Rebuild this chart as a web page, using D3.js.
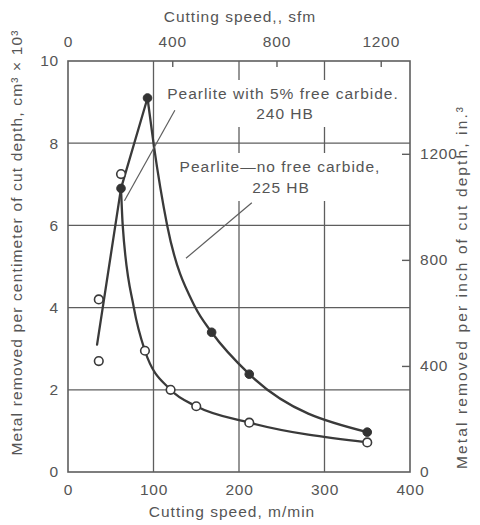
<!DOCTYPE html>
<html>
<head>
<meta charset="utf-8">
<script src="https://cdn.jsdelivr.net/npm/d3@7"></script>
<style>
  html, body { margin: 0; padding: 0; background: #fff; }
  svg text { font-family: "Liberation Sans", Arial, Helvetica, sans-serif; fill: #555; }
</style>
</head>
<body>
<svg id="chart" width="480" height="525"></svg>
<script>
// Cutting speed (m/min) and metal removed (cm^3 x 10^3 per cm of cut depth)

// Pearlite with 5% free carbide, 240 HB (filled markers)
const carbideSpeed = [62, 93, 168, 212, 350];
const carbideValue = [6.9, 9.1, 3.4, 2.38, 0.97];

// Pearlite, no free carbide, 225 HB (open markers)
const plainSpeed = [36, 36, 62, 90, 120, 150, 212, 350];
const plainValue = [4.2, 2.7, 7.25, 2.95, 2.0, 1.6, 1.2, 0.72];

// Traced fitted curves
const risingSpeed = [34, 62];
const risingValue = [3.1, 6.9];
const carbideRiseSpeed = [62, 93];
const carbideRiseValue = [6.9, 9.1];
const carbideFallSpeed = [93, 100, 116, 149, 168, 212, 350];
const carbideFallValue = [9.1, 8.0, 6.0, 4.0, 3.4, 2.38, 0.97];
const plainFallSpeed = [62, 64, 77, 90, 120, 150, 212, 350];
const plainFallValue = [6.9, 6.0, 4.0, 2.95, 2.0, 1.6, 1.2, 0.72];

// Axis ticks
const bottomTicks = [0, 100, 200, 300, 400];
const leftTicks = [0, 2, 4, 6, 8, 10];
const topTicks = [0, 400, 800, 1200];        // sfm
const rightTicks = [0, 400, 800, 1200];      // in^3 per in.
const gridX = [100, 200, 300];
const gridY = [2, 4, 6, 8];

const M_PER_FT = 0.3048;
const IN3_PER_UNIT = 155;   // 10^3 cm^3/cm expressed in in^3/in

const svg = d3.select("#chart");
const L = 68, R = 410, T = 61, B = 472;

const x = d3.scaleLinear().domain([0, 400]).range([L, R]);
const y = d3.scaleLinear().domain([0, 10]).range([B, T]);
const xTop = d3.scaleLinear().domain([0, 400 / M_PER_FT]).range([L, R]);
const yRight = d3.scaleLinear().domain([0, 10 * IN3_PER_UNIT]).range([B, T]);

const lineCol = "#3a3a3a", gridCol = "#5e5e5e";
const plain = d3.format("d");

// grid
const grid = svg.append("g").attr("stroke", gridCol).attr("stroke-width", 1.3);
grid.selectAll(".gx").data(gridX).join("line")
  .attr("x1", d => x(d)).attr("x2", d => x(d)).attr("y1", T).attr("y2", B);
grid.selectAll(".gy").data(gridY).join("line")
  .attr("x1", L).attr("x2", R).attr("y1", d => y(d)).attr("y2", d => y(d));

// label backgrounds break the grid behind the captions
const bg = svg.append("g").attr("fill", "#fff");
bg.append("rect").attr("x", 160).attr("y", 80).attr("width", 246).attr("height", 47);
bg.append("rect").attr("x", 168).attr("y", 153).attr("width", 226).attr("height", 48);

// frame
svg.append("rect").attr("x", L).attr("y", T).attr("width", R - L).attr("height", B - T)
  .attr("fill", "none").attr("stroke", gridCol).attr("stroke-width", 1.6);

// axes
const fontSize = "15.5px";
const styleAxis = (g) => {
  g.select(".domain").remove();
  g.selectAll(".tick line").attr("stroke", gridCol).attr("stroke-width", 1.4);
  g.selectAll(".tick text").attr("fill", "#555").style("font-size", fontSize)
    .attr("letter-spacing", "0.8px")
    .attr("font-family", "Liberation Sans, Arial, sans-serif");
};

svg.append("g").attr("transform", `translate(0,${B})`)
  .call(d3.axisBottom(x).tickValues(bottomTicks).tickFormat(plain).tickSize(0).tickPadding(12))
  .call(styleAxis);

svg.append("g").attr("transform", `translate(${L},0)`)
  .call(d3.axisLeft(y).tickValues(leftTicks).tickFormat(plain).tickSize(0).tickPadding(9))
  .call(styleAxis);

svg.append("g").attr("transform", `translate(0,${T})`)
  .call(d3.axisTop(xTop).tickValues(topTicks).tickFormat(plain).tickSize(-6).tickPadding(14))
  .call(styleAxis)
  .call(g => g.selectAll(".tick").filter(d => d === 0).select("line").remove());

svg.append("g").attr("transform", `translate(${R},0)`)
  .call(d3.axisRight(yRight).tickValues(rightTicks).tickFormat(plain).tickSize(-8).tickPadding(10))
  .call(styleAxis)
  .call(g => g.selectAll(".tick").filter(d => d === 0).select("line").remove());

// curves
const pts = (xs, ys) => xs.map((v, i) => [v, ys[i]]);
const straight = d3.line().x(d => x(d[0])).y(d => y(d[1]));
const smooth = d3.line().x(d => x(d[0])).y(d => y(d[1])).curve(d3.curveMonotoneX);

const curves = svg.append("g").attr("fill", "none").attr("stroke", lineCol)
  .attr("stroke-width", 2.3).attr("stroke-linejoin", "round").attr("stroke-linecap", "round");
curves.append("path").attr("d", straight(pts(risingSpeed, risingValue)));
curves.append("path").attr("d", straight(pts(carbideRiseSpeed, carbideRiseValue)));
curves.append("path").attr("d", smooth(pts(carbideFallSpeed, carbideFallValue)));
curves.append("path").attr("d", smooth(pts(plainFallSpeed, plainFallValue)));

// markers
svg.append("g").selectAll("circle").data(pts(plainSpeed, plainValue)).join("circle")
  .attr("cx", d => x(d[0])).attr("cy", d => y(d[1])).attr("r", 4.3)
  .attr("fill", "#fff").attr("stroke", lineCol).attr("stroke-width", 1.6);
svg.append("g").selectAll("circle").data(pts(carbideSpeed, carbideValue)).join("circle")
  .attr("cx", d => x(d[0])).attr("cy", d => y(d[1])).attr("r", 4.3)
  .attr("fill", "#333").attr("stroke", "#333").attr("stroke-width", 1);

// leader lines
const leaders = svg.append("g").attr("stroke", gridCol).attr("stroke-width", 1.2);
leaders.append("line").attr("x1", x(125)).attr("y1", y(8.8)).attr("x2", x(66)).attr("y2", y(6.6));
leaders.append("line").attr("x1", x(215)).attr("y1", y(6.55)).attr("x2", x(138)).attr("y2", y(5.2));

// captions
const cap = svg.append("g").style("font-size", fontSize).attr("letter-spacing", "1px")
  .attr("text-anchor", "middle");
cap.append("text").attr("x", 283).attr("y", 99).text("Pearlite with 5% free carbide.");
cap.append("text").attr("x", 285).attr("y", 119).text("240 HB");
cap.append("text").attr("x", 280).attr("y", 172).text("Pearlite\u2014no free carbide,");
cap.append("text").attr("x", 281).attr("y", 193).text("225 HB");

// axis titles
const titles = svg.append("g").style("font-size", fontSize).attr("text-anchor", "middle");
titles.append("text").attr("x", 240).attr("y", 22).attr("letter-spacing", "1px")
  .text("Cutting speed,, sfm");
titles.append("text").attr("x", 232).attr("y", 517).attr("letter-spacing", "1px")
  .text("Cutting speed, m/min");
titles.append("text").attr("transform", "translate(22,243) rotate(-90)")
  .attr("textLength", 425).attr("lengthAdjust", "spacing")
  .text("Metal removed per centimeter of cut depth, cm\u00b3 \u00d7 10\u00b3");
titles.append("text").attr("transform", "translate(467,288) rotate(-90)")
  .attr("textLength", 362).attr("lengthAdjust", "spacing")
  .text("Metal removed per inch of cut depth, in.\u00b3");
</script>
</body>
</html>
